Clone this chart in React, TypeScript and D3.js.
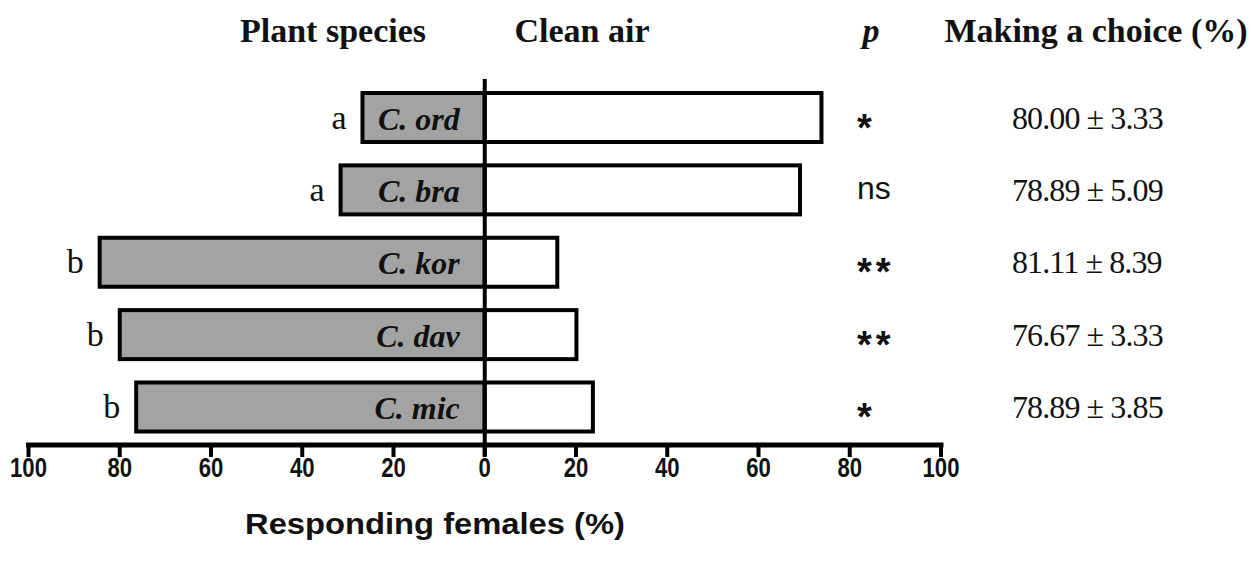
import React from "react";
import * as d3 from "d3";

const species = ["C. ord", "C. bra", "C. kor", "C. dav", "C. mic"];
const plantValues = [26.8, 31.6, 84.4, 80.0, 76.4];
const airValues = [73.8, 69.1, 15.9, 20.1, 23.7];
const groupLetters = ["a", "a", "b", "b", "b"];
const pLabels = ["*", "ns", "**", "**", "*"];
const choiceLabels = ["80.00 ± 3.33", "78.89 ± 5.09", "81.11 ± 8.39", "76.67 ± 3.33", "78.89 ± 3.85"];
const tickValues = [-100, -80, -60, -40, -20, 0, 20, 40, 60, 80, 100];

const W = 1253;
const H = 563;
const SERIF = "'Liberation Serif', 'Times New Roman', serif";
const SANS = "'Liberation Sans', Arial, sans-serif";

export default function App() {
  const x = d3.scaleLinear().domain([-100, 100]).range([28.5, 941]);
  const y = d3.scalePoint<string>().domain(species).range([117.5, 407]);
  const barH = 49;
  const axisY = 445;
  const x0 = x(0);

  return (
    <svg
      width={W}
      height={H}
      viewBox={`0 0 ${W} ${H}`}
      style={{ position: "absolute", left: 0, top: 0, display: "block", background: "#fff" }}
    >
      <rect x={0} y={0} width={W} height={H} fill="#fff" />
      {/* headers */}
      <text x={333} y={42} fontFamily={SERIF} fontWeight="bold" fontSize={34} textAnchor="middle" fill="#111">
        Plant species
      </text>
      <text x={582} y={42} fontFamily={SERIF} fontWeight="bold" fontSize={34} textAnchor="middle" fill="#111">
        Clean air
      </text>
      <text x={871} y={42} fontFamily={SERIF} fontWeight="bold" fontStyle="italic" fontSize={34} textAnchor="middle" fill="#111">
        p
      </text>
      <text x={1096} y={42} fontFamily={SERIF} fontWeight="bold" fontSize={34} textAnchor="middle" fill="#111">
        Making a choice (%)
      </text>

      {/* bars */}
      {species.map((s, i) => {
        const cy = y(s)!;
        const isNs = pLabels[i] === "ns";
        return (
          <g key={s}>
            <rect
              x={x(-plantValues[i])}
              y={cy - barH / 2}
              width={x0 - x(-plantValues[i])}
              height={barH}
              fill="#a3a3a3"
              stroke="#000"
              strokeWidth={4}
            />
            <rect
              x={x0}
              y={cy - barH / 2}
              width={x(airValues[i]) - x0}
              height={barH}
              fill="#fff"
              stroke="#000"
              strokeWidth={4}
            />
            <text
              x={x0 - 25}
              y={cy + 12}
              fontFamily={SERIF}
              fontWeight="bold"
              fontStyle="italic"
              fontSize={32}
              textAnchor="end"
              fill="#111"
            >
              {s}
            </text>
            <text
              x={x(-plantValues[i]) - 16}
              y={cy + 11}
              fontFamily={SERIF}
              fontSize={34}
              textAnchor="end"
              fill="#111"
            >
              {groupLetters[i]}
            </text>
            <text
              x={857}
              y={isNs ? cy + 9 : cy + 23}
              fontFamily={SANS}
              fontWeight={isNs ? "normal" : "bold"}
              fontSize={isNs ? 32 : 38}
              letterSpacing={isNs ? 0 : 4}
              fill="#111"
            >
              {pLabels[i]}
            </text>
            <text
              x={1012}
              y={cy + 11}
              fontFamily={SERIF}
              fontSize={32}
              letterSpacing={-0.9}
              fill="#111"
            >
              {choiceLabels[i]}
            </text>
          </g>
        );
      })}

      {/* center line */}
      <line x1={x0} x2={x0} y1={79} y2={456} stroke="#000" strokeWidth={4} />

      {/* axis */}
      <line x1={x(-100)} x2={x(100)} y1={axisY} y2={axisY} stroke="#000" strokeWidth={5} strokeLinecap="square" />
      {tickValues.map((t) => (
        <g key={t}>
          <line x1={x(t)} x2={x(t)} y1={axisY} y2={axisY + 12} stroke="#000" strokeWidth={4} />
          <text
            transform={`translate(${x(t)},${axisY + 32}) scale(0.82,1)`}
            fontFamily={SANS}
            fontWeight="bold"
            fontSize={27}
            textAnchor="middle"
            fill="#111"
          >
            {Math.abs(t)}
          </text>
        </g>
      ))}
      <text
        x={435}
        y={534}
        fontFamily={SANS}
        fontWeight="bold"
        fontSize={30}
        textLength={380}
        lengthAdjust="spacingAndGlyphs"
        textAnchor="middle"
        fill="#111"
      >
        Responding females (%)
      </text>
    </svg>
  );
}
